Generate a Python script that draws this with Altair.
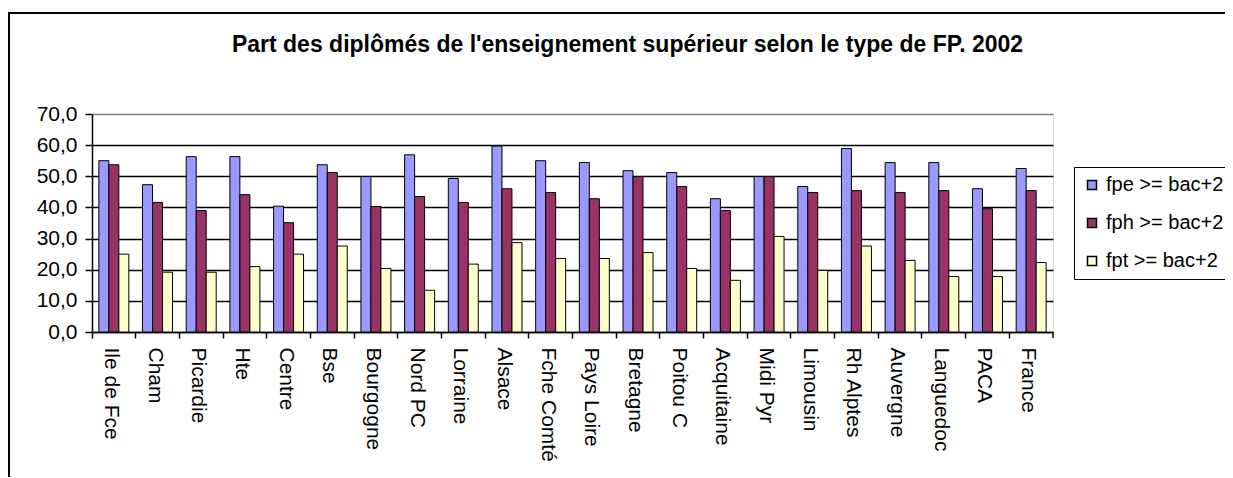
import altair as alt
import pandas as pd

regions = ["Ile de Fce", "Cham", "Picardie", "Hte", "Centre", "Bse", "Bourgogne",
           "Nord PC", "Lorraine", "Alsace", "Fche Comté", "Pays Loire", "Bretagne",
           "Poitou C", "Acquitaine", "Midi Pyr", "Limousin", "Rh Alptes", "Auvergne",
           "Languedoc", "PACA", "France"]
fpe = [55.0, 47.3, 56.3, 56.3, 40.4, 53.7, 49.9, 56.9, 49.3, 59.7, 55.0,
       54.4, 51.8, 51.2, 42.8, 49.9, 46.7, 58.9, 54.4, 54.4, 46.0, 52.5]
fph = [53.7, 41.6, 39.0, 44.1, 35.1, 51.2, 40.3, 43.5, 41.6, 46.0, 44.8,
       42.8, 49.9, 46.7, 39.0, 49.9, 44.8, 45.4, 44.8, 45.4, 39.6, 45.4]
fpt = [25.0, 19.2, 19.2, 21.0, 25.0, 27.6, 20.4, 13.4, 21.8, 28.7, 23.6,
       23.6, 25.5, 20.4, 16.6, 30.7, 19.8, 27.6, 23.0, 17.8, 17.8, 22.3]
series = ["fpe >= bac+2", "fph >= bac+2", "fpt >= bac+2"]
colors = ["#9999FF", "#993366", "#FFFFCC"]
y_ticks = [0, 10, 20, 30, 40, 50, 60, 70]

rows = []
for name, vals in zip(series, [fpe, fph, fpt]):
    for r, v in zip(regions, vals):
        rows.append({"region": r, "serie": name, "value": v})
df = pd.DataFrame(rows)

W, H = 961, 218
FONT = "Liberation Sans"
FS = 21

bars = alt.Chart(df).mark_bar(stroke="black", strokeWidth=1).encode(
    x=alt.X("region:N", sort=regions, title=None,
            scale=alt.Scale(paddingInner=0, paddingOuter=0),
            axis=alt.Axis(bandPosition=0, labelAngle=90, labelFontSize=FS,
                          labelOffset=-3, tickSize=6, labelPadding=9,
                          tickColor="black", domainColor="black",
                          domainWidth=1.5, tickWidth=1.5, grid=False,
                          labelColor="black", labelFont=FONT)),
    xOffset=alt.XOffset("serie:N", sort=series,
                        scale=alt.Scale(paddingInner=0, paddingOuter=0.685)),
    y=alt.Y("value:Q", title=None,
            scale=alt.Scale(domain=[0, 70], nice=False),
            axis=alt.Axis(values=y_ticks, labelFontSize=FS, tickSize=7,
                          labelPadding=8, labelColor="black", labelFont=FONT,
                          labelExpr="replace(format(datum.value, '.1f'), '.', ',')",
                          tickColor="black", domainColor="black",
                          domainWidth=1.5, tickWidth=1.5,
                          gridColor={"condition": {"test": "datum.value === 70",
                                                   "value": "#808080"},
                                     "value": "black"},
                          gridWidth=1.5, gridOpacity=1)),
    color=alt.Color("serie:N", sort=series, title=None,
                    scale=alt.Scale(domain=series, range=colors),
                    legend=alt.Legend(orient="none", legendX=982, legendY=53,
                                      strokeColor="black", fillColor="white",
                                      padding=8, symbolType="square",
                                      symbolSize=81, symbolStrokeColor="black",
                                      symbolStrokeWidth=1.5, labelFontSize=20,
                                      labelFont=FONT, labelColor="black",
                                      rowPadding=18, labelOffset=4)),
)

one = pd.DataFrame({"a": [0]})
border = alt.Chart(one).mark_rect(fill=None, stroke="black", strokeWidth=2).encode(
    x=alt.value(-83), x2=alt.value(W + 250), y=alt.value(-101), y2=alt.value(H + 250)
)
end_tick = alt.Chart(one).mark_rule(color="black", strokeWidth=1.5).encode(
    x=alt.value(W), y=alt.value(H), y2=alt.value(H + 6)
)

chart = alt.layer(border, bars, end_tick).properties(
    width=W, height=H,
    autosize=alt.AutoSizeParams(type="none"),
    padding={"left": 84, "top": 106, "right": 172, "bottom": 145},
    title=alt.TitleParams(
        "Part des diplômés de l'enseignement supérieur selon le type de FP. 2002",
        fontSize=23, fontWeight="bold", font=FONT, color="black",
        anchor="middle", frame="group", dx=55, offset=-63, baseline="alphabetic"),
).configure_view(stroke="#808080", strokeWidth=1.5).configure(background="white")

chart.save("out.html", embed_options={"renderer": "svg", "actions": False})
